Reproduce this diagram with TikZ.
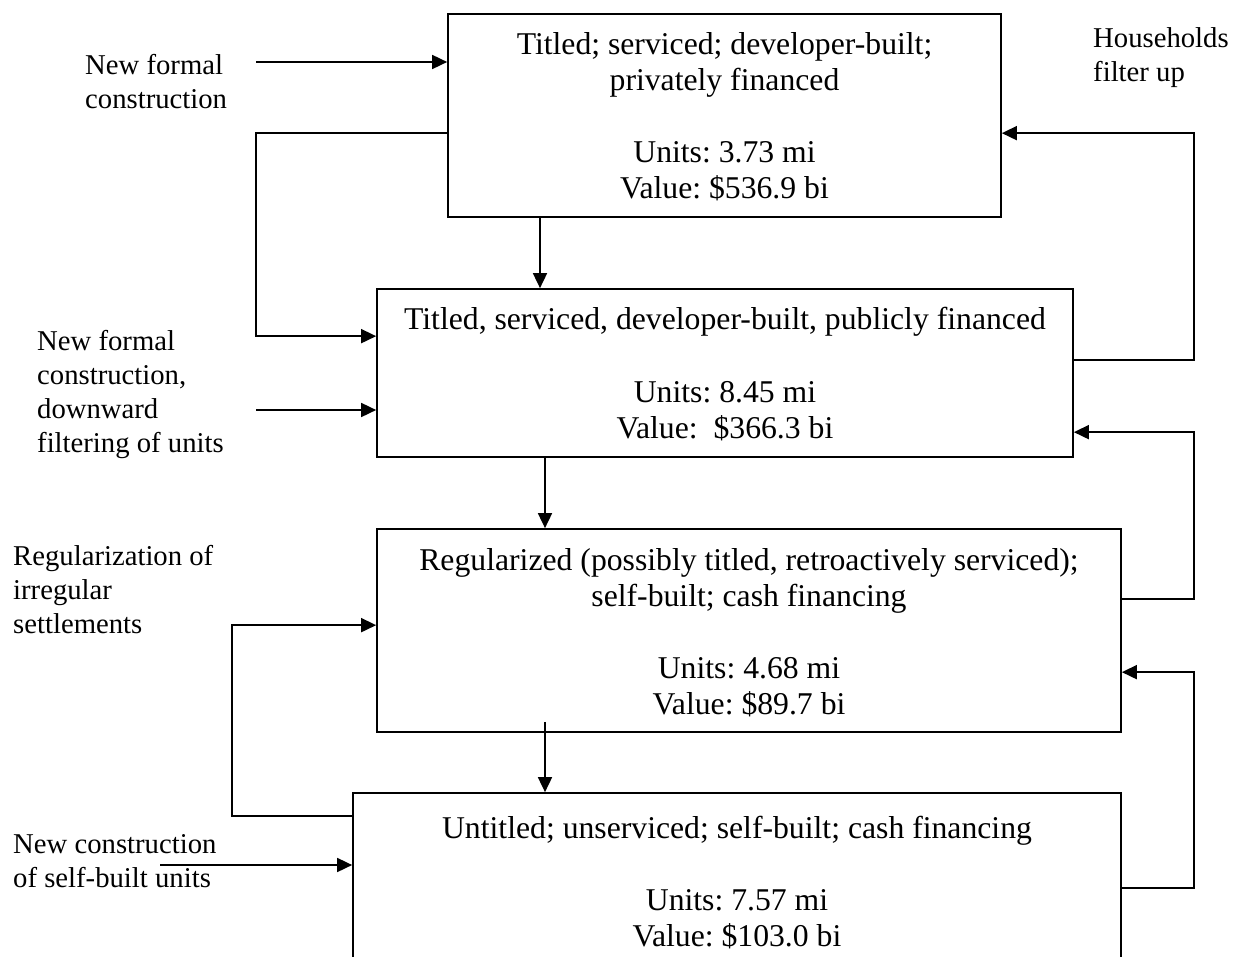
\documentclass[tikz,border=0pt]{standalone}
\usepackage{fontspec}
\setmainfont{Liberation Serif}
\usetikzlibrary{arrows.meta,calc}

\begin{document}
\frenchspacing
\begin{tikzpicture}[x=1pt,y=-1pt,
  box/.style={draw,line width=1.7pt,inner sep=0pt},
  boxtext/.style={inner sep=0pt,anchor=base,font=\fontsize{31.7}{36}\selectfont},
  sidetext/.style={inner sep=0pt,anchor=base west,font=\fontsize{28.7}{34}\selectfont},
  arr/.style={line width=1.7pt,-{Triangle[length=15pt,width=14pt]}}]
\useasboundingbox (0,0) rectangle (1233,957);
\clip (0,0) rectangle (1233,957);

% housing tiers
\node[box,minimum width=553pt,minimum height=203pt] (b1) at (724.5,115.5) {};
\node[box,minimum width=696pt,minimum height=168pt] (b2) at (725,373) {};
\node[box,minimum width=744pt,minimum height=203pt] (b3) at (749,630.5) {};
\node[box,minimum width=768pt,minimum height=207pt] (b4) at (737,896.5) {};

\node[boxtext] (t1) at (b1 |- 0,55) {\begin{tabular}[t]{@{}c@{}}Titled; serviced; developer-built;\\privately financed\\[36pt]Units: 3.73 mi\\Value: \$536.9 bi\end{tabular}};
\node[boxtext] (t2) at (b2 |- 0,330) {\begin{tabular}[t]{@{}c@{}}Titled, serviced, developer-built, publicly financed\\[36pt]Units: 8.45 mi\\Value:\ \ \$366.3 bi\end{tabular}};
\node[boxtext] (t3) at (b3 |- 0,570) {\begin{tabular}[t]{@{}c@{}}Regularized (possibly titled, retroactively serviced);\\self-built; cash financing\\[36pt]Units: 4.68 mi\\Value: \$89.7 bi\end{tabular}};
\node[boxtext] (t4) at (b4 |- 0,838) {\begin{tabular}[t]{@{}c@{}}Untitled; unserviced; self-built; cash financing\\[36pt]Units: 7.57 mi\\Value: \$103.0 bi\end{tabular}};

% side labels
\node[sidetext] (l1) at (85,75) {\begin{tabular}[t]{@{}l@{}}New formal\\construction\end{tabular}};
\node[sidetext] (l2) at (37,350) {\begin{tabular}[t]{@{}l@{}}New formal\\construction,\\downward\\filtering of units\end{tabular}};
\node[sidetext] (l3) at (13,565) {\begin{tabular}[t]{@{}l@{}}Regularization of\\irregular\\settlements\end{tabular}};
\node[sidetext] (l4) at (13,853) {\begin{tabular}[t]{@{}l@{}}New construction\\of self-built units\end{tabular}};
\node[sidetext] (l5) at (1093,48) {\begin{tabular}[t]{@{}l@{}}Households\\filter up\end{tabular}};

% inflows from the left
\coordinate (in1) at (256,62);
\coordinate (in2) at (256,410);
\coordinate (in4) at (160,865);
\draw[arr] (in1) -- (in1 -| b1.west);
\draw[arr] (in2) -- (in2 -| b2.west);
\draw[arr] (in4) -- (in4 -| b4.west);

% downward filtering between tiers
\coordinate (x12) at (540,0);
\coordinate (x23) at (545,0);
\draw[arr] (b1.south -| x12) -- (b2.north -| x12);
\draw[arr] (b2.south -| x23) -- (b3.north -| x23);
\draw[arr] ($(b3.south -| x23)+(0,-11)$) -- (b4.north -| x23);

% left-hand loops
\draw[arr] ($(b1.north west)+(0,120)$) -- ++(-191,0) |- ($(b2.north west)+(0,48)$);
\draw[arr] ($(b4.north west)+(0,24)$) -- ++(-120,0) |- ($(b3.north west)+(0,97)$);

% households filtering up on the right
\draw[arr] ($(b2.north east)+(0,72)$) -- ++(120,0) |- ($(b1.north east)+(0,120)$);
\draw[arr] ($(b3.north east)+(0,71)$) -- ++(72,0) |- ($(b2.north east)+(0,144)$);
\draw[arr] ($(b4.north east)+(0,96)$) -- ++(72,0) |- ($(b3.north east)+(0,144)$);
\end{tikzpicture}
\end{document}
